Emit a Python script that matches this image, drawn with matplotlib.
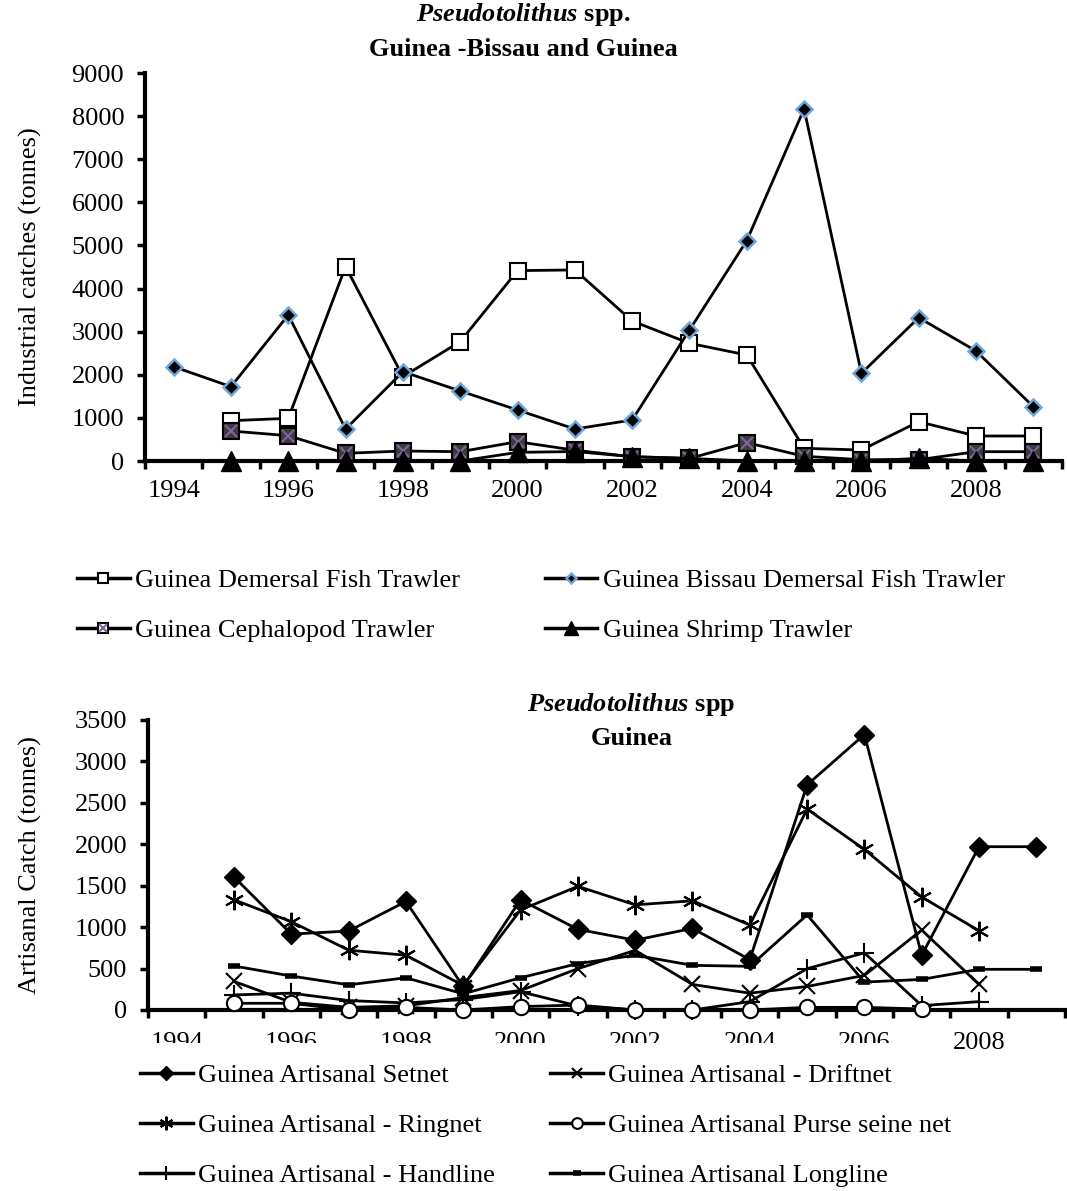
import numpy as np
import matplotlib.pyplot as plt
from matplotlib.patches import Rectangle
from matplotlib.legend_handler import HandlerTuple

plt.rcParams['font.family'] = ['Liberation Serif', 'DejaVu Serif']
plt.rcParams['font.size'] = 19
plt.rcParams['mathtext.fontset'] = 'custom'
plt.rcParams['mathtext.rm'] = 'Liberation Serif'
plt.rcParams['mathtext.bfit'] = 'Liberation Serif:italic:bold'

nan = np.nan
years = list(range(1994, 2010))

# industrial catches (tonnes)
guinea_demersal = [nan, 935, 990, 4509, 1957, 2769, 4416, 4432, 3248, 2730, 2459, 294, 255, 912, 580, 580]
bissau_demersal = [2188, 1724, 3387, 742, 2072, 1624, 1183, 742, 951, 3039, 5111, 8167, 2034, 3325, 2552, 1260]
cephalopod = [nan, 696, 587, 178, 232, 216, 448, 250, 100, 60, 425, 110, 30, 30, 216, 216]
shrimp = [nan, 0, 0, 0, 0, 0, 200, 220, 100, 60, 0, 0, 0, 60, 0, 0]

# artisanal catches (tonnes)
setnet = [nan, 1606, 916, 953, 1310, 284, 1330, 973, 843, 985, 608, 2717, 3325, 661, 1971, 1971]
driftnet = [nan, 345, 93, 32, 50, 150, 235, 499, 720, 308, 203, 284, 418, 965, 308, nan]
ringnet = [nan, 1330, 1066, 722, 661, 296, 1208, 1492, 1269, 1318, 1026, 2425, 1938, 1363, 957, nan]
purse_seine = [nan, 81, 81, 0, 32, 0, 41, 60, 0, 0, 0, 32, 32, 12, nan, nan]
handline = [nan, 182, 203, 114, 85, 126, 220, 50, 0, 0, 101, 499, 689, 53, 101, nan]
longline = [nan, 531, 410, 304, 389, 195, 389, 560, 661, 539, 527, 1148, 337, 369, 491, 491]

W, H = 1067, 1191
fig = plt.figure(figsize=(W / 100, H / 100), dpi=100)

x = np.arange(len(years))


def style_axes(ax, ymax, ystep, label_pad):
    ax.set_xlim(-0.5, len(years) - 0.5)
    ax.set_ylim(0, ymax)
    ax.set_yticks(np.arange(0, ymax + 1, ystep))
    for s in ['top', 'right']:
        ax.spines[s].set_visible(False)
    for s in ['left', 'bottom']:
        ax.spines[s].set_linewidth(3)
    ax.tick_params(axis='y', direction='out', length=6, width=2.5, pad=9)
    # ticks sit between the categories, labels every second year
    ax.set_xticks(np.arange(-0.5, len(years), 1))
    ax.set_xticklabels([])
    ax.tick_params(axis='x', which='major', direction='out', length=6, width=2.5)
    ax.set_xticks(x[:15:2], minor=True)
    ax.set_xticklabels([str(y) for y in years[:15:2]], minor=True)
    ax.tick_params(axis='x', which='minor', length=0, pad=label_pad)


lw = 2.0
dark = 'black'

# ---- top chart
ax1 = fig.add_axes([145 / W, 1 - 461 / H, 917 / W, 388 / H])
style_axes(ax1, 9000, 1000, 14)
ax1.plot(x, guinea_demersal, color=dark, lw=lw, marker='s', ms=11, mfc='white', mec='black',
         mew=1.5, clip_on=False, zorder=3)
ax1.plot(x, bissau_demersal, color=dark, lw=lw, marker='D', ms=8, mfc='black', mec='#6fa8dc',
         mew=1.8, clip_on=False, zorder=4)
ax1.plot(x, cephalopod, color=dark, lw=lw, marker='s', ms=11, mfc='#3c3c3c', mec='black',
         mew=1.5, clip_on=False, zorder=3)
ax1.plot(x, cephalopod, lw=0, marker='x', ms=9, mec='#8064a2', mew=1.5, clip_on=False, zorder=3)
ax1.plot(x, shrimp, color=dark, lw=lw, marker='^', ms=14, mfc='black', mec='black',
         clip_on=False, zorder=3)
ax1.set_ylabel('Industrial catches (tonnes)')
ax1.yaxis.set_label_coords(-0.112, 0.5)

fig.text(523 / W, 1 - 14 / H, r'$\mathbfit{Pseudotolithus}$ spp.', ha='center', va='center',
         fontweight='bold')
fig.text(523 / W, 1 - 50 / H, 'Guinea -Bissau and Guinea', ha='center', va='center',
         fontweight='bold')

# legend handles for the top chart
h_gd, = ax1.plot([], [], color=dark, lw=2.5, marker='s', ms=11, mfc='white', mec='black', mew=1.5)
h_bd, = ax1.plot([], [], color=dark, lw=2.5, marker='D', ms=8, mfc='black', mec='#6fa8dc', mew=1.8)
h_ce, = ax1.plot([], [], color=dark, lw=2.5, marker='s', ms=11, mfc='white', mec='black', mew=1.5)
h_cx, = ax1.plot([], [], lw=0, marker='x', ms=9, mec='#8064a2', mew=1.5)
h_sh, = ax1.plot([], [], color=dark, lw=2.5, marker='^', ms=14, mfc='black', mec='black')
fig.legend([h_gd, (h_ce, h_cx), h_bd, h_sh],
           ['Guinea Demersal Fish Trawler', 'Guinea Cephalopod Trawler',
            'Guinea Bissau Demersal Fish Trawler', 'Guinea Shrimp Trawler'],
           handler_map={tuple: HandlerTuple(ndivide=1, pad=0)},
           ncol=2, loc='upper left', bbox_to_anchor=(77 / W, 1 - 569 / H), frameon=False,
           borderpad=0, borderaxespad=0, handlelength=2.0, handletextpad=0.2,
           columnspacing=3.2, labelspacing=1.0, markerscale=0.7)

# ---- bottom chart
ax2 = fig.add_axes([148 / W, 1 - 1010 / H, 917 / W, 290 / H])
style_axes(ax2, 3500, 500, 16)
asterisk = (6, 2, 0)
series = [
    (setnet, 'Guinea Artisanal Setnet', dict(marker='D', ms=10, mfc='black', mec='black')),
    (ringnet, 'Guinea Artisanal - Ringnet', dict(marker=asterisk, ms=14, mec='black', mew=1.5)),
    (handline, 'Guinea Artisanal - Handline', dict(marker='+', ms=14, mec='black', mew=1.5)),
    (driftnet, 'Guinea Artisanal - Driftnet', dict(marker='x', ms=11, mec='black', mew=1.5)),
    (purse_seine, 'Guinea Artisanal Purse seine net', dict(marker='o', ms=11, mfc='white', mec='black', mew=1.5)),
    (longline, 'Guinea Artisanal Longline', dict(marker='_', ms=8, mec='black', mew=4)),
]
handles = []
for vals, name, kw in series:
    ax2.plot(x, vals, color=dark, lw=lw, clip_on=False, zorder=3, **kw)
    h, = ax2.plot([], [], color=dark, lw=2.5, **kw)
    handles.append(h)
ax2.set_ylabel('Artisanal Catch (tonnes)')
ax2.yaxis.set_label_coords(-0.116, 0.5)
ax2.text(0.527, 1.052, r'$\mathbfit{Pseudotolithus}$ spp', transform=ax2.transAxes,
         ha='center', va='center', fontweight='bold')
ax2.text(0.527, 0.935, 'Guinea', transform=ax2.transAxes, ha='center', va='center',
         fontweight='bold')

# the legend block hides the lower half of the year labels
fig.patches.append(Rectangle((135 / W, 1 - 1062 / H), 815 / W, 19 / H, transform=fig.transFigure,
                             facecolor='white', edgecolor='none', zorder=4))

fig.legend(handles, [s[1] for s in series], ncol=2, loc='upper left',
           bbox_to_anchor=(140 / W, 1 - 1064 / H), frameon=False, borderpad=0, borderaxespad=0,
           handlelength=2.0, handletextpad=0.2, columnspacing=2.1, labelspacing=1.0,
           markerscale=0.7)

fig.savefig('out.png', dpi=100)
